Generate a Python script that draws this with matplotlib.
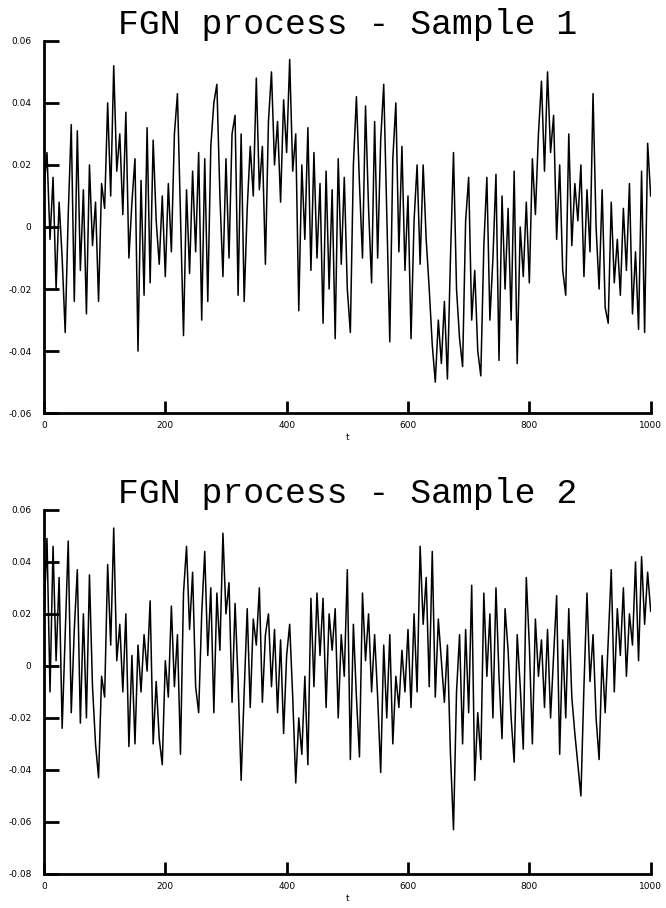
import numpy as np
import matplotlib.pyplot as plt

t = np.arange(0, 1001, 5)

sample1 = [0.012, 0.024, -0.004, 0.016, -0.020, 0.008, -0.010, -0.034, 0.004, 0.033,
           -0.024, 0.031, -0.014, 0.012, -0.028, 0.020, -0.006, 0.008, -0.024, 0.014,
           0.006, 0.040, 0.010, 0.052, 0.018, 0.030, 0.004, 0.037, -0.010, 0.008,
           0.022, -0.040, 0.015, -0.022, 0.032, -0.018, 0.028, 0.002, -0.012, 0.010,
           -0.016, 0.014, -0.008, 0.030, 0.043, 0.004, -0.035, 0.012, -0.015, 0.018,
           -0.008, 0.024, -0.030, 0.022, -0.024, 0.026, 0.040, 0.046, 0.010, -0.016,
           0.022, -0.010, 0.030, 0.036, -0.022, 0.030, -0.024, 0.006, 0.026, 0.010,
           0.048, 0.012, 0.026, -0.012, 0.034, 0.050, 0.020, 0.034, 0.008, 0.041,
           0.024, 0.054, 0.018, 0.030, -0.027, 0.020, -0.004, 0.032, -0.014, 0.024,
           -0.010, 0.014, -0.031, 0.018, -0.020, 0.012, -0.036, 0.022, -0.012, 0.016,
           -0.020, -0.034, 0.020, 0.042, 0.014, -0.010, 0.039, 0.006, -0.018, 0.034,
           -0.010, 0.028, 0.046, 0.004, -0.037, 0.022, 0.040, -0.008, 0.026, -0.014,
           0.010, -0.036, 0.002, 0.020, -0.012, 0.020, -0.004, -0.020, -0.038, -0.050,
           -0.030, -0.044, -0.024, -0.049, -0.010, 0.024, -0.020, -0.036, -0.045, 0.002,
           0.016, -0.030, -0.014, -0.040, -0.048, -0.006, 0.016, -0.030, -0.010, 0.017,
           -0.043, 0.010, -0.020, 0.006, -0.030, 0.018, -0.044, 0.000, -0.016, 0.008,
           -0.018, 0.022, 0.004, 0.030, 0.047, 0.018, 0.050, 0.024, 0.036, -0.004,
           0.020, -0.014, -0.022, 0.030, -0.006, 0.014, 0.002, 0.020, -0.016, 0.012,
           -0.008, 0.043, 0.000, -0.020, 0.012, -0.026, -0.031, 0.008, -0.018, -0.004,
           -0.022, 0.006, -0.014, 0.014, -0.028, -0.008, -0.033, 0.018, -0.034, 0.027,
           0.010]

sample2 = [0.018, 0.049, -0.010, 0.046, 0.002, 0.034, -0.024, 0.012, 0.048, -0.018,
           0.014, 0.037, -0.022, 0.020, -0.020, 0.035, -0.008, -0.030, -0.043, -0.004,
           -0.012, 0.039, 0.008, 0.053, 0.002, 0.016, -0.010, 0.020, -0.031, 0.004,
           -0.030, 0.008, -0.010, 0.012, -0.002, 0.025, -0.030, -0.006, -0.028, -0.038,
           0.002, -0.012, 0.023, -0.008, 0.012, -0.034, 0.028, 0.046, 0.014, 0.036,
           -0.008, -0.018, 0.020, 0.044, 0.004, 0.030, -0.018, 0.028, 0.006, 0.051,
           0.020, 0.032, -0.014, 0.024, -0.006, -0.044, -0.010, 0.022, -0.016, 0.018,
           0.008, 0.030, -0.014, 0.012, 0.020, -0.008, 0.014, -0.018, 0.010, -0.026,
           0.004, 0.016, -0.012, -0.045, -0.020, -0.034, -0.004, -0.038, 0.026, -0.008,
           0.028, 0.004, 0.026, -0.016, 0.020, 0.006, 0.022, -0.020, 0.012, -0.004,
           0.037, -0.036, 0.016, -0.012, -0.035, 0.028, 0.002, 0.020, -0.010, 0.012,
           -0.012, -0.041, 0.008, -0.020, 0.012, -0.030, -0.004, -0.016, 0.006, -0.010,
           0.014, -0.016, 0.020, -0.010, 0.046, 0.016, 0.034, -0.008, 0.044, -0.012,
           0.018, 0.002, -0.014, 0.008, -0.034, -0.063, -0.010, 0.012, -0.030, 0.014,
           -0.018, 0.031, -0.044, -0.018, -0.036, 0.028, -0.004, 0.020, -0.020, 0.030,
           -0.004, -0.028, 0.022, 0.006, -0.020, -0.037, 0.012, -0.008, -0.032, 0.034,
           0.008, -0.030, 0.018, -0.004, 0.010, -0.016, 0.014, -0.020, 0.004, 0.027,
           -0.034, 0.010, -0.020, 0.022, -0.012, -0.026, -0.038, -0.050, -0.008, 0.028,
           -0.006, 0.012, -0.020, -0.036, 0.004, -0.018, 0.010, 0.037, -0.010, 0.022,
           0.004, 0.030, -0.004, 0.020, 0.008, 0.040, 0.002, 0.042, 0.016, 0.036,
           0.021]

titles = ['FGN process - Sample 1', 'FGN process - Sample 2']
xticks = [0, 200, 400, 600, 800, 1000]
yticks1 = [-0.06, -0.04, -0.02, 0, 0.02, 0.04, 0.06]
yticks2 = [-0.08, -0.06, -0.04, -0.02, 0, 0.02, 0.04, 0.06]


def ylabels(ticks):
    return ['0' if v == 0 else ('%.2f' % v) for v in ticks]


def draw(ax, y, title, yticks):
    ax.plot(t, y, color='black', lw=1.1)
    ax.set_xlim(0, 1000)
    ax.set_ylim(yticks[0], yticks[-1])
    ax.set_xticks(xticks)
    ax.set_xticklabels([str(v) for v in xticks])
    ax.set_yticks(yticks)
    ax.set_yticklabels(ylabels(yticks))
    for s in ['top', 'right']:
        ax.spines[s].set_visible(False)
    for s in ['left', 'bottom']:
        ax.spines[s].set_linewidth(2)
    ax.tick_params(axis='y', direction='in', length=11, width=2, labelsize=6.5, pad=9)
    ax.tick_params(axis='x', direction='in', length=9, width=2, labelsize=6.5, pad=6)
    ax.set_xlabel('t', fontsize=6.5, labelpad=2)
    ax.set_title(title, fontsize=25, family='Liberation Mono', pad=3)


fig = plt.figure(figsize=(6.66, 9.08), dpi=100)
ax1 = fig.add_axes([0.066, 0.545, 0.911, 0.410])
ax2 = fig.add_axes([0.066, 0.0375, 0.911, 0.401])
draw(ax1, sample1, titles[0], yticks1)
draw(ax2, sample2, titles[1], yticks2)

fig.savefig('out.png', dpi=100)
